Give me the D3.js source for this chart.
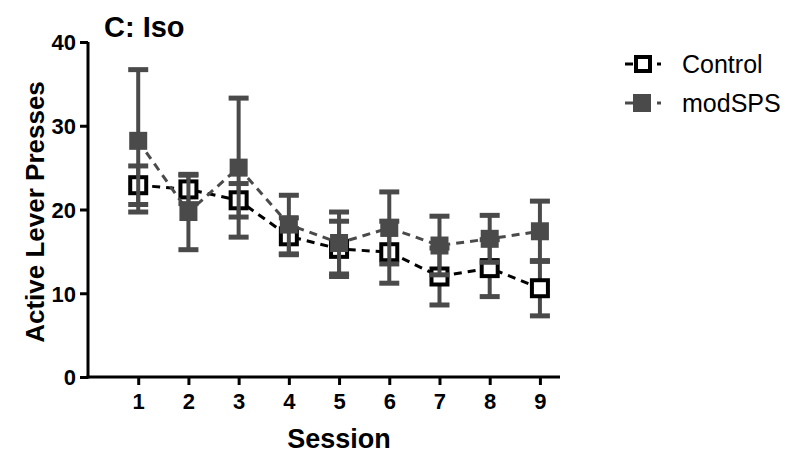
<!DOCTYPE html>
<html><head><meta charset="utf-8">
<script src="https://cdn.jsdelivr.net/npm/d3@7"></script>
<style>body{margin:0;background:#fff}svg{display:block}text{font-family:"Liberation Sans",Arial,sans-serif}</style>
</head><body>
<script>
const sessions = [1,2,3,4,5,6,7,8,9];
const controlMean = [22.9, 22.4, 21.1, 16.8, 15.3, 14.9, 12.0, 13.0, 10.6];
const controlErr  = [2.3, 1.7, 2.0, 2.2, 3.3, 3.7, 3.4, 3.4, 3.3];
const spsMean = [28.2, 19.7, 25.0, 18.2, 16.0, 17.8, 15.7, 16.5, 17.4];
const spsErr  = [8.5, 4.5, 8.3, 3.5, 3.7, 4.3, 3.5, 2.8, 3.6];
const yTicks = [0,10,20,30,40];
const seriesNames = ["Control","modSPS"];

const W=800,H=465;
const svg=d3.select("body").append("svg").attr("width",W).attr("height",H);
const x=d3.scaleLinear().domain([0,9.4]).range([88,560]);
const y=d3.scaleLinear().domain([0,40]).range([377,42]);
const gray="#4a4a4a";

// axes
const yAx=svg.append("g").attr("transform","translate(88,0)")
  .call(d3.axisLeft(y).tickValues(yTicks).tickSize(8).tickSizeOuter(0));
const xAx=svg.append("g").attr("transform","translate(0,377)")
  .call(d3.axisBottom(x).tickValues(sessions).tickSize(8).tickSizeOuter(0));
[yAx,xAx].forEach(g=>{
  g.select(".domain").attr("stroke","#000").attr("stroke-width",3);
  g.selectAll(".tick line").attr("stroke","#000").attr("stroke-width",3);
  g.selectAll(".tick text").attr("fill","#000").attr("font-size",22).attr("font-weight","bold")
   .attr("font-family","Liberation Sans, Arial, sans-serif");
});
yAx.selectAll(".tick text").attr("x",-12).attr("dy","0.36em");
xAx.selectAll(".tick text").attr("y",16);
xAx.select(".domain").attr("d",`M86.5,0H560`);
yAx.select(".domain").attr("d",`M0,${y(40)}V${y(0)+1.5}`);

// labels
svg.append("text").attr("x",104).attr("y",37).attr("font-size",29).attr("font-weight","bold").text("C: Iso");
svg.append("text").attr("transform","translate(44,212) rotate(-90)").attr("text-anchor","middle")
  .attr("font-size",26).attr("font-weight","bold").text("Active Lever Presses");
svg.append("text").attr("x",339).attr("y",448).attr("text-anchor","middle")
  .attr("font-size",27).attr("font-weight","bold").text("Session");

function errbars(means,errs){
  const g=svg.append("g").attr("stroke",gray);
  sessions.forEach((s,i)=>{
    const cx=x(s), y1=y(means[i]+errs[i]), y2=y(means[i]-errs[i]);
    g.append("line").attr("x1",cx).attr("x2",cx).attr("y1",y1).attr("y2",y2).attr("stroke-width",4);
    [y1,y2].forEach(yy=>g.append("line").attr("x1",cx-10).attr("x2",cx+10).attr("y1",yy).attr("y2",yy).attr("stroke-width",5));
  });
}
const line=d3.line().x((d,i)=>x(sessions[i])).y(d=>y(d));

// control
errbars(controlMean,controlErr);
svg.append("path").datum(controlMean).attr("d",line).attr("fill","none").attr("stroke","#000")
  .attr("stroke-width",3).attr("stroke-dasharray","8,6");
svg.append("g").selectAll("rect").data(controlMean).join("rect")
  .attr("x",(d,i)=>x(sessions[i])-8).attr("y",d=>y(d)-8).attr("width",16).attr("height",16)
  .attr("fill","#fff").attr("stroke","#000").attr("stroke-width",4);
// modSPS
errbars(spsMean,spsErr);
svg.append("path").datum(spsMean).attr("d",line).attr("fill","none").attr("stroke",gray)
  .attr("stroke-width",3).attr("stroke-dasharray","8,6");
svg.append("g").selectAll("rect").data(spsMean).join("rect")
  .attr("x",(d,i)=>x(sessions[i])-9).attr("y",d=>y(d)-9).attr("width",18).attr("height",18)
  .attr("fill",gray);

// legend
const leg=[{n:seriesNames[0],y:64,c:"#000",open:true},{n:seriesNames[1],y:103,c:gray,open:false}];
leg.forEach(l=>{
  svg.append("line").attr("x1",625).attr("x2",633).attr("y1",l.y).attr("y2",l.y).attr("stroke",l.c).attr("stroke-width",3);
  svg.append("line").attr("x1",657).attr("x2",661).attr("y1",l.y).attr("y2",l.y).attr("stroke",l.c).attr("stroke-width",3);
  if(l.open) svg.append("rect").attr("x",636).attr("y",l.y-7).attr("width",14).attr("height",14).attr("fill","#fff").attr("stroke",l.c).attr("stroke-width",4);
  else svg.append("rect").attr("x",633).attr("y",l.y-9).attr("width",18).attr("height",18).attr("fill",l.c);
  svg.append("text").attr("x",682).attr("y",l.y+9).attr("font-size",25).text(l.n);
});
</script>
</body></html>
